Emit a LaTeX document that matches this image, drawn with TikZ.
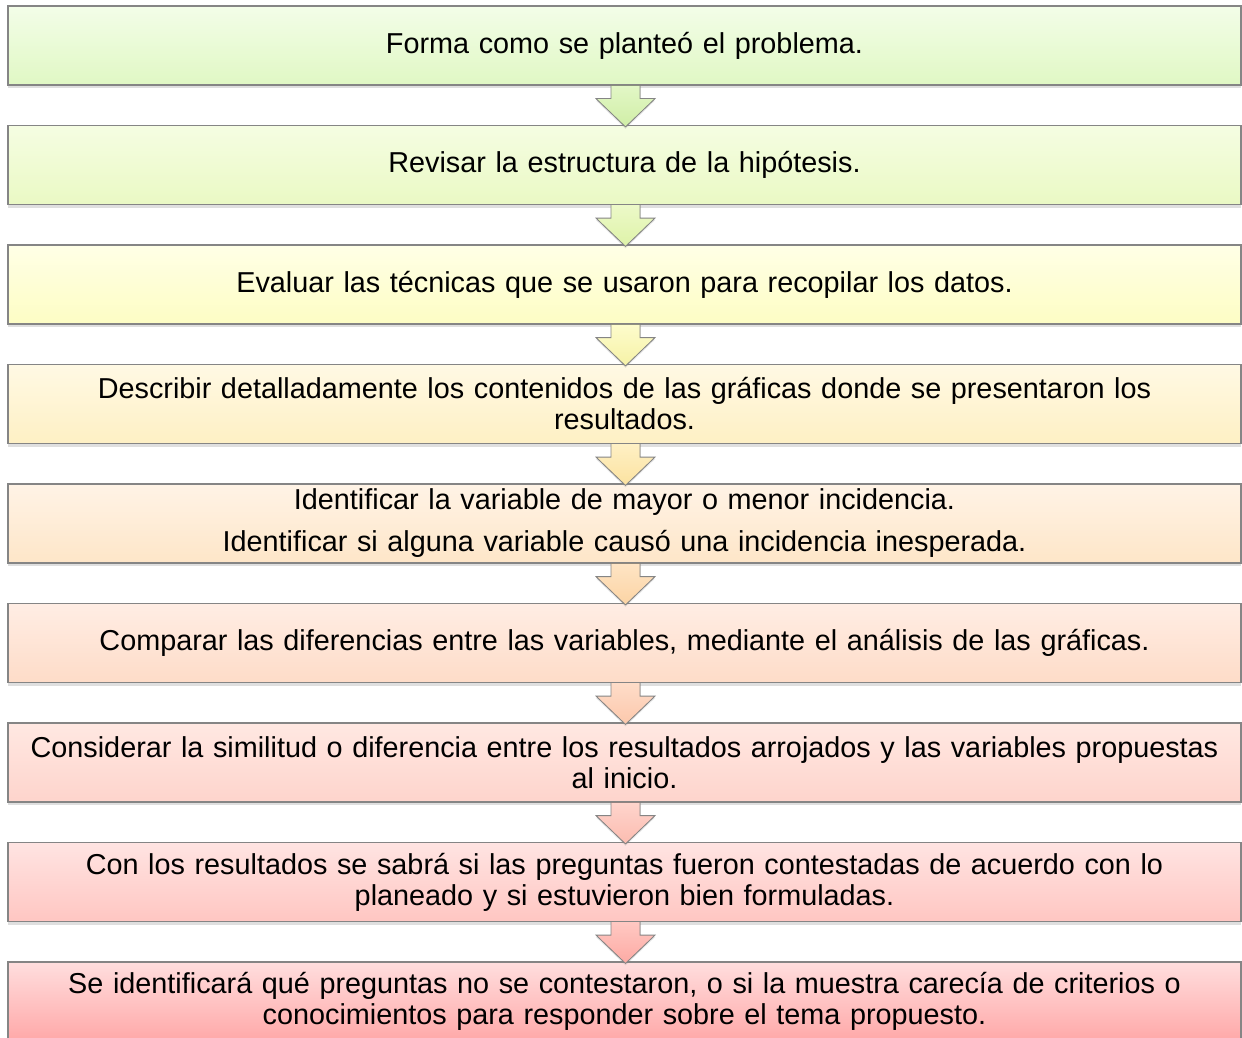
\documentclass[tikz,border=0pt]{standalone}
\usepackage{fontspec}
\setmainfont{Liberation Sans}
\usetikzlibrary{calc,shadows}
\definecolor{bordergray}{HTML}{858585}
\definecolor{bat}{HTML}{F3FDE8}\definecolor{bab}{HTML}{E0F8C4}
\definecolor{bbt}{HTML}{F5FDE2}\definecolor{bbb}{HTML}{EAF9C4}
\definecolor{bct}{HTML}{FFFFE6}\definecolor{bcb}{HTML}{FDFDC4}
\definecolor{bdt}{HTML}{FFF9E4}\definecolor{bdb}{HTML}{FEF0C4}
\definecolor{bet}{HTML}{FFF3E6}\definecolor{beb}{HTML}{FEE6C8}
\definecolor{bft}{HTML}{FFEDE4}\definecolor{bfb}{HTML}{FEDCC8}
\definecolor{bgt}{HTML}{FFE8E2}\definecolor{bgb}{HTML}{FED4CC}
\definecolor{bht}{HTML}{FFE4E2}\definecolor{bhb}{HTML}{FFC6C2}
\definecolor{bit}{HTML}{FFDEDE}\definecolor{bib}{HTML}{FFA8A8}
\definecolor{aat}{HTML}{E2F7C6}\definecolor{aab}{HTML}{D0EEA6}
\definecolor{abt}{HTML}{ECF9C8}\definecolor{abb}{HTML}{DEF3A8}
\definecolor{act}{HTML}{FDFCCC}\definecolor{acb}{HTML}{F6F2A6}
\definecolor{adt}{HTML}{FEF0C4}\definecolor{adb}{HTML}{FCE2A0}
\definecolor{aet}{HTML}{FEE4C4}\definecolor{aeb}{HTML}{FCD4A4}
\definecolor{aft}{HTML}{FEDCC8}\definecolor{afb}{HTML}{FCC8AC}
\definecolor{agt}{HTML}{FED4CC}\definecolor{agb}{HTML}{FCBCB0}
\definecolor{aht}{HTML}{FFC8C2}\definecolor{ahb}{HTML}{FDAAA4}
\tikzset{
  stepbox/.style={draw=bordergray, line width=1.2pt, minimum width=1233pt,
    minimum height=79pt, text width=1215pt, align=center, inner sep=0pt,
    font=\fontsize{28.8}{31}\selectfont,
    drop shadow={shadow xshift=0pt, shadow yshift=-3pt, opacity=0.25}},
  downarrow/.style={draw=bordergray, line width=0.8pt, line join=miter,
    drop shadow={shadow xshift=0pt, shadow yshift=-2pt, opacity=0.2}}
}
\newcommand{\flowarrow}[4]{%
  \filldraw[downarrow, top color=#3, bottom color=#4]
    ($(#1.south)+(-13.5,0)$) -- ($(#1.south)+(-13.5,13)$) -- ($(#1.south)+(-28.5,13)$)
    -- ($(#2.north)+(1,2)$)
    -- ($(#1.south)+(30.5,13)$) -- ($(#1.south)+(15.5,13)$) -- ($(#1.south)+(15.5,0)$);}
\begin{document}
\begin{tikzpicture}[x=1pt,y=-1pt]
\useasboundingbox (0,0) rectangle (1242,1038);
\fill[white] (0,0) rectangle (1242,1038);
\clip (0,0) rectangle (1242,1038);
\node[stepbox, top color=bat, bottom color=bab] (b1) at (624.5,45.5) {Forma como se planteó el problema.};
\node[stepbox, top color=bbt, bottom color=bbb] (b2) at (624.5,165) {Revisar la estructura de la hipótesis.};
\node[stepbox, top color=bct, bottom color=bcb] (b3) at (624.5,284.5) {Evaluar las técnicas que se usaron para recopilar los datos.};
\node[stepbox, top color=bdt, bottom color=bdb] (b4) at (624.5,404) {Describir detalladamente los contenidos de las gráficas donde se presentaron los\\resultados.};
\node[stepbox, top color=bet, bottom color=beb] (b5) at (624.5,523.5) {Identificar la variable de mayor o menor incidencia.\\[11pt]Identificar si alguna variable causó una incidencia inesperada.};
\node[stepbox, top color=bft, bottom color=bfb] (b6) at (624.5,643) {Comparar las diferencias entre las variables, mediante el análisis de las gráficas.};
\node[stepbox, top color=bgt, bottom color=bgb] (b7) at (624.5,762.5) {Considerar la similitud o diferencia entre los resultados arrojados y las variables propuestas\\al inicio.};
\node[stepbox, top color=bht, bottom color=bhb] (b8) at (624.5,882) {Con los resultados se sabrá si las preguntas fueron contestadas de acuerdo con lo\\planeado y si estuvieron bien formuladas.};
\node[stepbox, top color=bit, bottom color=bib] (b9) at (624.5,1001.5) {Se identificará qué preguntas no se contestaron, o si la muestra carecía de criterios o\\conocimientos para responder sobre el tema propuesto.};
\flowarrow{b1}{b2}{aat}{aab}
\flowarrow{b2}{b3}{abt}{abb}
\flowarrow{b3}{b4}{act}{acb}
\flowarrow{b4}{b5}{adt}{adb}
\flowarrow{b5}{b6}{aet}{aeb}
\flowarrow{b6}{b7}{aft}{afb}
\flowarrow{b7}{b8}{agt}{agb}
\flowarrow{b8}{b9}{aht}{ahb}
\end{tikzpicture}
\end{document}
